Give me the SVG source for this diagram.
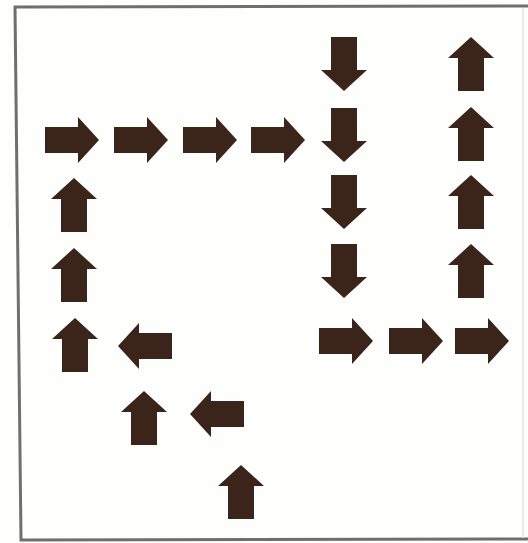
<svg xmlns="http://www.w3.org/2000/svg" xmlns:xlink="http://www.w3.org/1999/xlink" width="528" height="543" viewBox="0 0 528 543">
  <style>
    .arrow { fill: #3b251b; }
    .frame { fill: none; stroke: #6f6f6f; stroke-width: 3; }
  </style>
  <defs>
    <path id="arr" d="M-27,-13 H6 V-23 L27,0 L6,23 V13 H-27 Z"/>
  </defs>
  <rect x="0" y="0" width="528" height="543" fill="#fefefc"/>
  <g id="frame">
    <polyline class="frame" points="528,6 15,7 21,540 528,539"/>
    <line x1="523" y1="8" x2="523" y2="538" stroke="#e4e4e4" stroke-width="1.5"/>
  </g>
  <g id="arrows" class="arrow">
    <g id="r1"><use xlink:href="#arr" transform="translate(72,140)"/></g>
    <g id="r2"><use xlink:href="#arr" transform="translate(141,140)"/></g>
    <g id="r3"><use xlink:href="#arr" transform="translate(210,140)"/></g>
    <g id="r4"><use xlink:href="#arr" transform="translate(278,140)"/></g>
    <g id="d1"><use xlink:href="#arr" transform="translate(344,64) rotate(90)"/></g>
    <g id="d2"><use xlink:href="#arr" transform="translate(344,135) rotate(90)"/></g>
    <g id="d3"><use xlink:href="#arr" transform="translate(344,202) rotate(90)"/></g>
    <g id="d4"><use xlink:href="#arr" transform="translate(344,271) rotate(90)"/></g>
    <g id="u1"><use xlink:href="#arr" transform="translate(471,64) rotate(-90)"/></g>
    <g id="u2"><use xlink:href="#arr" transform="translate(471,134) rotate(-90)"/></g>
    <g id="u3"><use xlink:href="#arr" transform="translate(471,202) rotate(-90)"/></g>
    <g id="u4"><use xlink:href="#arr" transform="translate(471,271) rotate(-90)"/></g>
    <g id="b1"><use xlink:href="#arr" transform="translate(346,341)"/></g>
    <g id="b2"><use xlink:href="#arr" transform="translate(416,341)"/></g>
    <g id="b3"><use xlink:href="#arr" transform="translate(482,341)"/></g>
    <g id="l1"><use xlink:href="#arr" transform="translate(74,205) rotate(-90)"/></g>
    <g id="l2"><use xlink:href="#arr" transform="translate(74,275) rotate(-90)"/></g>
    <g id="l3"><use xlink:href="#arr" transform="translate(75,345) rotate(-90)"/></g>
    <g id="w1"><use xlink:href="#arr" transform="translate(145,346) rotate(180)"/></g>
    <g id="u5"><use xlink:href="#arr" transform="translate(144,418) rotate(-90)"/></g>
    <g id="w2"><use xlink:href="#arr" transform="translate(217,414) rotate(180)"/></g>
    <g id="u6"><use xlink:href="#arr" transform="translate(241,492) rotate(-90)"/></g>
  </g>
  <g id="connectors"/>
</svg>
